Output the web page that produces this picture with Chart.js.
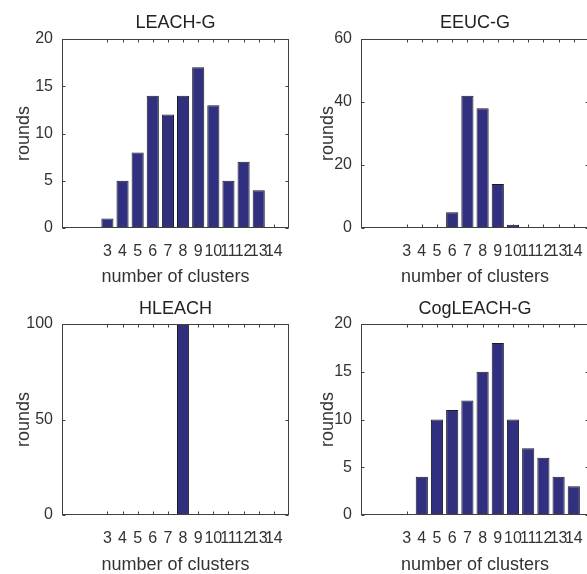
<!DOCTYPE html>
<html>
<head>
<meta charset="utf-8">
<script src="https://cdn.jsdelivr.net/npm/chart.js@4.4.1/dist/chart.umd.min.js"></script>
<style>
  html, body { margin: 0; padding: 0; background: #fff; overflow: hidden; }
  body { width: 587px; height: 574px; position: relative; }
  canvas { position: absolute; }
</style>
</head>
<body>
<canvas id="leachG" width="300" height="290" style="left:0;top:0"></canvas>
<canvas id="eeucG" width="300" height="290" style="left:300px;top:0"></canvas>
<canvas id="hleach" width="300" height="290" style="left:0;top:290px"></canvas>
<canvas id="cogLeachG" width="300" height="290" style="left:300px;top:290px"></canvas>
<script>
// Data
const clusters = [3, 4, 5, 6, 7, 8, 9, 10, 11, 12, 13, 14];
const leachG = [1, 5, 8, 14, 12, 14, 17, 13, 5, 7, 4, 0];
const eeucG = [0, 0, 0, 5, 42, 38, 14, 1, 0, 0, 0, 0];
const hleach = [0, 0, 0, 0, 0, 100, 0, 0, 0, 0, 0, 0];
const cogLeachG = [0, 4, 10, 11, 12, 15, 18, 10, 7, 6, 4, 3];

const ticksLeachG = [0, 5, 10, 15, 20];
const ticksEeucG = [0, 20, 40, 60];
const ticksHleach = [0, 50, 100];
const ticksCogLeachG = [0, 5, 10, 15, 20];

const xRange = [0, 15];

const textColor = "#333333";
const axisColor = "#404040";
const barColor = "#312f80";
const fontFamily = "'Liberation Sans', Arial, Helvetica, sans-serif";

// MATLAB-style box with inward ticks
const boxPlugin = {
  id: "matlabBox",
  afterDatasetsDraw(chart) {
    const { ctx, chartArea: a } = chart;
    const x = chart.scales.x;
    const y = chart.scales.y;
    const L = Math.round(a.left) + 0.5;
    const R = Math.round(a.right) - 0.5;
    const T = Math.round(a.top) + 0.5;
    const B = Math.round(a.bottom) - 0.5;
    ctx.save();
    ctx.strokeStyle = axisColor;
    ctx.lineWidth = 1;
    ctx.strokeRect(L, T, R - L, B - T);
    ctx.beginPath();
    x.ticks.forEach((t) => {
      const px = Math.round(x.getPixelForValue(t.value)) + 0.5;
      ctx.moveTo(px, T); ctx.lineTo(px, T + 3);
      ctx.moveTo(px, B); ctx.lineTo(px, B - 3);
    });
    y.ticks.forEach((t) => {
      const py = Math.round(y.getPixelForValue(t.value)) + 0.5;
      ctx.moveTo(L, py); ctx.lineTo(L + 3, py);
      ctx.moveTo(R, py); ctx.lineTo(R - 3, py);
    });
    ctx.stroke();
    ctx.restore();
  }
};

// Draws one histogram panel
function desenharHistograma(id, titulo, valores, yTicks, lay) {
  const ctx = document.getElementById(id).getContext("2d");
  return new Chart(ctx, {
    type: "bar",
    data: {
      datasets: [
        {
          data: clusters.map((c, i) => ({ x: c, y: valores[i] })),
          backgroundColor: barColor,
          borderColor: "#1c1c1c",
          borderWidth: 1,
          borderSkipped: false,
          categoryPercentage: 1,
          barPercentage: 0.8
        }
      ]
    },
    plugins: [boxPlugin],
    options: {
      responsive: false,
      animation: false,
      devicePixelRatio: 1,
      layout: { padding: { left: 0, right: 11, top: 0, bottom: 0 } },
      plugins: {
        legend: { display: false },
        tooltip: { enabled: false },
        title: {
          display: true,
          text: titulo,
          fullSize: false,
          color: "#222222",
          font: { family: fontFamily, size: 18, weight: "normal" },
          padding: { top: lay.titleTop, bottom: lay.titleBottom }
        }
      },
      scales: {
        x: {
          type: "linear",
          min: xRange[0],
          max: xRange[1],
          offset: false,
          grid: { display: false, drawTicks: false, tickLength: 0 },
          border: { display: false },
          afterBuildTicks: (s) => { s.ticks = clusters.map((v) => ({ value: v })); },
          afterFit: (s) => { s.height = lay.xHeight; },
          ticks: {
            autoSkip: false,
            maxRotation: 0,
            minRotation: 0,
            padding: 14,
            color: textColor,
            font: { family: fontFamily, size: 16 },
            callback: (v) => String(v)
          },
          title: {
            display: true,
            text: "number of clusters",
            color: textColor,
            font: { family: fontFamily, size: 18 },
            padding: { top: 0, bottom: lay.xTitlePad }
          }
        },
        y: {
          min: yTicks[0],
          max: yTicks[yTicks.length - 1],
          grid: { display: false, drawTicks: false, tickLength: 0 },
          border: { display: false },
          afterBuildTicks: (s) => { s.ticks = yTicks.map((v) => ({ value: v })); },
          afterFit: (s) => { s.width = lay.yWidth; },
          ticks: {
            padding: 9,
            color: textColor,
            font: { family: fontFamily, size: 16 },
            callback: (v) => String(v)
          },
          title: {
            display: true,
            text: "rounds",
            color: textColor,
            font: { family: fontFamily, size: 18 },
            padding: { top: lay.yTitlePad, bottom: 0 }
          }
        }
      }
    }
  });
}

const topRow = { titleTop: 12.2, titleBottom: 5.2, xHeight: 62, xTitlePad: 1.8 };
const bottomRow = { titleTop: 8.7, titleBottom: 3.7, xHeight: 65, xTitlePad: 4.2 };

desenharHistograma("leachG", "LEACH-G", leachG, ticksLeachG, { ...topRow, yWidth: 62, yTitlePad: 13.2 });
desenharHistograma("eeucG", "EEUC-G", eeucG, ticksEeucG, { ...topRow, yWidth: 61, yTitlePad: 17.7 });
desenharHistograma("hleach", "HLEACH", hleach, ticksHleach, { ...bottomRow, yWidth: 62, yTitlePad: 13.2 });
desenharHistograma("cogLeachG", "CogLEACH-G", cogLeachG, ticksCogLeachG, { ...bottomRow, yWidth: 61, yTitlePad: 17.7 });
</script>
</body>
</html>
